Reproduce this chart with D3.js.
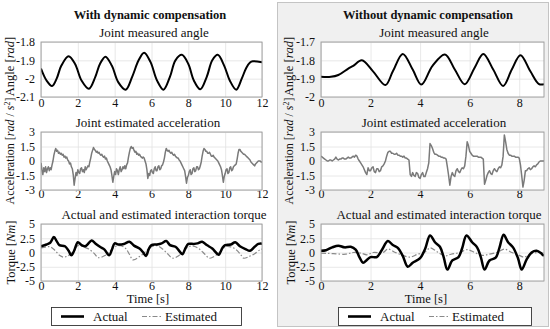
<!DOCTYPE html>
<html>
<head>
<meta charset="utf-8">
<script src="https://cdn.jsdelivr.net/npm/d3@7"></script>
<style>
body { margin: 0; background: #fff; }
text { font-family: "Liberation Serif", serif; fill: #111; }
</style>
</head>
<body>
<svg id="chart" width="550" height="329"></svg>
<script>
// ---- data ----
var xTicksWith = [0, 2, 4, 6, 8, 10, 12]
var xTicksWithout = [0, 2, 4, 6, 8]

var angleTicksWith = [-1.8, -1.9, -2, -2.1]
var angleTicksWithout = [-1.7, -1.8, -1.9, -2]
var accelTicks = [3, 1.5, 0, -1.5, -3]
var torqueTicks = [5, 2.5, 0, -2.5, -5]

// joint measured angle [t, rad]
var angleWith = [[0,-1.945],[0.3,-2.01],[0.6,-2.04],[0.85,-2.0],[1.1,-1.93],[1.5,-1.878],[1.85,-1.92],[2.2,-2.01],[2.6,-2.055],
  [2.95,-1.99],[3.2,-1.92],[3.5,-1.88],[3.85,-1.93],[4.2,-2.02],[4.6,-2.06],[4.95,-1.99],[5.3,-1.9],[5.6,-1.858],[5.95,-1.91],
  [6.3,-2.01],[6.65,-2.06],[7.0,-1.99],[7.3,-1.9],[7.65,-1.87],[8.0,-1.92],[8.3,-2.01],[8.65,-2.058],[9.0,-1.99],[9.3,-1.9],
  [9.6,-1.87],[9.95,-1.93],[10.25,-2.01],[10.6,-2.06],[10.9,-2.0],[11.15,-1.94],[11.35,-1.912],[11.5,-1.905],[12,-1.91]]
var angleWithout = [[0,-1.89],[0.4,-1.89],[0.7,-1.88],[1.1,-1.845],[1.3,-1.83],[1.65,-1.80],[2.1,-1.86],[2.6,-1.935],[2.9,-1.86],
  [3.3,-1.765],[3.7,-1.85],[4.05,-1.932],[4.5,-1.83],[5.0,-1.768],[5.4,-1.85],[5.8,-1.93],[6.2,-1.84],[6.55,-1.765],[6.95,-1.85],
  [7.35,-1.94],[7.7,-1.85],[8.05,-1.772],[8.45,-1.86],[8.8,-1.93],[9,-1.93]]

// joint estimated acceleration, sampled every 0.05 s from t = 0
var accelStep = 0.05
var accelWith = [
  -0.2,-0.9,-1.4,-0.7,-1.1,-0.6,-1.2,-0.8,-0.6,-1.0,-0.7,-0.9,-0.4,0.0,0.6,1.0,1.3,1.0,1.1,0.8,
  0.9,0.7,0.8,0.6,0.7,0.4,0.5,0.3,0.4,0.1,0.0,-0.3,-0.2,-0.6,-0.8,-1.4,-2.5,-1.8,-1.2,-1.5,
  -0.9,-1.2,-1.3,-0.8,-0.7,-1.1,-0.9,-1.2,-0.6,-0.9,-0.7,-0.5,-0.6,-0.1,0.3,0.8,1.1,1.4,1.2,1.1,
  0.9,1.0,0.8,0.9,0.7,0.6,0.7,0.5,0.4,0.5,0.2,0.3,0.0,-0.2,-0.4,-0.6,-0.9,-1.5,-2.2,-1.6,
  -1.1,-1.4,-0.8,-1.0,-1.4,-0.9,-0.6,-1.1,-0.9,-0.6,-0.8,-0.5,-0.8,-0.4,-0.2,0.4,0.9,1.3,1.5,1.3,
  1.4,1.1,0.9,1.0,0.7,0.8,0.6,0.7,0.5,0.4,0.3,0.4,0.3,0.0,-0.3,-0.9,-1.8,-1.3,-1.5,-1.0,
  -0.9,-1.2,-1.3,-0.8,-0.6,-1.0,-1.0,-0.6,-0.5,-0.9,-0.8,-0.5,-0.4,-0.1,0.3,0.9,1.3,1.1,1.0,1.1,
  0.9,0.8,0.9,0.7,0.6,0.7,0.5,0.4,0.3,0.3,0.1,0.0,-0.2,-0.4,-0.6,-0.8,-1.0,-1.6,-2.3,-1.7,
  -1.5,-1.1,-0.9,-1.4,-1.3,-0.8,-0.7,-1.1,-1.0,-0.6,-0.6,-0.9,-0.8,-0.5,-0.1,0.5,1.0,1.3,1.2,1.0,
  1.0,0.8,0.8,0.9,0.7,0.5,0.5,0.6,0.4,0.3,0.2,0.1,0.0,-0.2,-0.4,-0.6,-0.9,-1.5,-2.2,-1.6,
  -1.3,-0.9,-0.8,-1.3,-1.2,-0.7,-0.6,-1.0,-0.9,-0.6,-0.5,-0.4,-0.3,0.2,0.8,1.2,1.2,1.0,0.9,0.8,
  0.7,0.7,0.6,0.5,0.4,0.3,0.2,0.1,-0.1,-0.2,-0.3,-0.4,-0.5,-0.3,-0.2,-0.1,0.0,0.0,0.0,-0.1,
  -0.1]
var accelWithout = [
  0.5,0.4,0.3,0.2,0.1,0.0,0.0,0.1,0.1,0.0,0.1,0.2,0.4,0.2,0.1,0.2,0.2,0.3,0.3,0.2,
  0.2,0.3,0.4,0.3,0.3,0.4,0.5,0.4,0.6,0.5,0.2,0.0,-0.2,-0.4,-0.6,-0.9,-1.2,-1.4,-0.7,-1.0,
  -1.0,-0.7,-0.6,-1.1,-1.2,-0.8,-0.8,-1.1,-1.0,-0.6,-0.5,-0.3,0.0,0.5,0.9,1.0,1.0,0.8,0.8,0.7,
  0.7,0.8,0.6,0.6,0.5,0.5,0.4,0.5,0.3,0.3,0.2,0.1,-1.4,-1.6,-1.2,-1.5,-1.6,-1.2,-1.3,-1.7,
  -1.8,-1.4,-1.2,-1.6,-1.6,-1.2,-0.8,-0.2,1.8,1.6,1.3,0.9,0.7,0.7,0.6,0.5,0.5,0.4,0.4,0.3,
  0.3,0.2,-0.6,-1.5,-2.5,-1.6,-1.2,-1.5,-1.6,-1.0,-0.8,-1.1,-1.2,-0.9,-0.7,-0.8,-0.5,0.5,2.0,1.6,
  1.0,0.8,0.6,0.5,0.5,0.5,0.5,0.4,0.4,0.4,0.3,0.2,-2.4,-2.0,-1.5,-1.2,-1.0,-1.3,-1.4,-1.0,
  -0.8,-1.0,-1.1,-0.8,-0.6,-0.7,-0.4,0.5,2.7,2.0,1.2,0.8,0.6,0.6,0.5,0.5,0.5,0.4,0.4,0.4,
  0.3,-0.4,-1.5,-2.7,-2.0,-1.0,-1.0,-0.8,-0.7,-0.9,-0.8,-0.6,-0.5,-0.6,-0.4,-0.3,-0.1,0.0,0.0,0.0,
  0.0]

// interaction torque [t, Nm]
var torqueActualWith = [[0,1.1],[0.3,1.4],[0.5,1.7],[0.7,2.7],[0.85,2.0],[1.0,1.3],[1.3,1.1],[1.5,0.3],[1.65,-0.5],[1.8,0.3],
  [2.0,1.8],[2.2,1.3],[2.4,1.1],[2.55,1.5],[2.75,2.1],[2.95,1.6],[3.2,1.0],[3.45,0.5],[3.7,-0.5],[3.85,0.5],[4.0,1.6],[4.2,1.4],
  [4.5,1.5],[4.8,1.9],[5.05,1.2],[5.35,0.7],[5.55,0.0],[5.7,-0.6],[5.85,0.6],[6.0,1.3],[6.3,1.4],[6.55,1.6],[6.8,2.0],[7.0,1.3],
  [7.3,1.0],[7.5,0.3],[7.68,-0.3],[7.85,0.8],[8.0,1.5],[8.3,1.5],[8.5,1.6],[8.75,1.9],[9.0,1.3],[9.3,0.7],[9.5,0.0],[9.65,-0.4],
  [9.85,0.8],[10.0,1.3],[10.3,1.4],[10.55,1.8],[10.8,1.1],[11.1,0.6],[11.35,0.3],[11.6,1.0],[11.8,1.5],[12,1.55]]
var torqueEstWith = [[0,0.8],[0.3,1.0],[0.5,1.0],[0.75,0.4],[1.0,-0.5],[1.2,-0.8],[1.45,-0.6],[1.7,0.0],[1.9,0.9],[2.05,1.3],
  [2.3,1.0],[2.6,0.6],[2.9,-0.2],[3.1,-0.9],[3.5,-0.5],[3.8,0.4],[4.0,1.0],[4.3,1.2],[4.6,0.7],[4.8,-0.3],[5.0,-1.3],[5.4,-0.6],
  [5.8,0.5],[6.0,1.0],[6.3,1.2],[6.6,0.6],[6.9,-0.3],[7.15,-1.0],[7.45,-0.6],[7.8,0.4],[8.0,1.0],[8.3,1.1],[8.6,0.6],[8.9,-0.3],
  [9.15,-1.0],[9.45,-0.6],[9.8,0.4],[10.0,1.0],[10.3,1.0],[10.6,0.5],[10.85,-0.4],[11.0,-1.0],[11.3,-0.7],[11.6,-0.2],[11.9,0.5],[12,0.6]]
var torqueActualWithout = [[0,0.3],[0.2,0.4],[0.45,0.9],[0.7,1.2],[0.95,0.9],[1.2,1.0],[1.4,0.5],[1.55,-0.8],[1.7,-1.8],[1.85,-1.3],
  [2.0,-0.8],[2.25,-0.8],[2.45,0.4],[2.7,2.0],[2.9,1.3],[3.1,0.8],[3.3,-0.6],[3.5,-2.5],[3.7,-1.8],[4.0,-1.0],[4.2,0.6],[4.4,3.0],
  [4.6,1.8],[4.8,1.0],[4.95,-0.8],[5.1,-3.0],[5.3,-1.4],[5.55,-0.8],[5.7,0.8],[5.87,3.0],[6.1,1.8],[6.3,0.9],[6.45,-0.8],[6.6,-3.0],
  [6.8,-1.4],[7.05,-0.9],[7.2,0.8],[7.37,3.1],[7.55,1.8],[7.75,0.9],[7.95,-1.0],[8.1,-3.0],[8.3,-1.2],[8.5,0.0],[8.7,0.3],[8.9,-0.2],[9,-0.6]]
var torqueEstWithout = [[0,-0.1],[0.5,-0.2],[1.0,-0.3],[1.3,0.0],[1.6,-0.1],[1.85,-0.4],[2.1,0.0],[2.5,0.0],[2.7,0.6],[3.0,0.0],
  [3.3,-0.5],[3.6,-0.8],[3.9,-0.3],[4.2,0.1],[4.4,0.8],[4.7,0.1],[5.0,-0.6],[5.25,-0.3],[5.6,0.0],[5.9,0.5],[6.2,0.0],[6.5,-0.5],
  [6.8,-0.3],[7.15,0.1],[7.4,0.6],[7.7,0.0],[8.0,-0.5],[8.2,-0.8],[8.5,-0.2],[8.8,0.0],[9,-0.1]]

var legendLabels = ['Actual', 'Estimated']

// ---- layout ----
var svg = d3.select('#chart')
var rows = [{top: 42, bottom: 97, pad: 1}, {top: 132, bottom: 190, pad: -0.5}, {top: 224, bottom: 281, pad: 0.5}]
var clipId = 0

// right panel background
svg.append('rect')
    .attr('x', 277.5).attr('y', 2.5)
    .attr('width', 271).attr('height', 324)
    .attr('fill', '#f0f0f0')
    .attr('stroke', '#c4c4c4')

function sampled(values) {
    return values.map(function(v, i) { return [i * accelStep, v] })
}

function drawPlot(cfg) {
    var row = rows[cfg.row]
    var x = d3.scaleLinear().domain(cfg.xDomain).range([cfg.x0, cfg.x1])
    var y = d3.scaleLinear().domain(cfg.yDomain).range([row.bottom, row.top])
    var g = svg.append('g')

    g.append('rect')
        .attr('x', cfg.x0).attr('y', row.top)
        .attr('width', cfg.x1 - cfg.x0).attr('height', row.bottom - row.top)
        .attr('fill', '#fff')

    var xAxis = g.append('g')
        .attr('transform', 'translate(0,' + row.bottom + ')')
        .call(d3.axisBottom(x).tickValues(cfg.xTicks).tickSize(-(row.bottom - row.top))
            .tickPadding(row.pad).tickFormat(function(d) { return String(d) }))
    var yAxis = g.append('g')
        .attr('transform', 'translate(' + cfg.x0 + ',0)')
        .call(d3.axisLeft(y).tickValues(cfg.yTicks).tickSize(-(cfg.x1 - cfg.x0))
            .tickPadding(6).tickFormat(function(d) { return String(d) }))

    ;[xAxis, yAxis].forEach(function(a) {
        a.select('.domain').remove()
        a.selectAll('line').attr('stroke', '#e2e2e2').attr('stroke-width', 0.8)
        a.selectAll('text').attr('font-size', 12).attr('fill', '#111')
            .style('font-family', '"Liberation Serif", serif')
    })

    clipId++
    g.append('clipPath').attr('id', 'clip' + clipId)
        .append('rect')
        .attr('x', cfg.x0).attr('y', row.top - 1)
        .attr('width', cfg.x1 - cfg.x0).attr('height', row.bottom - row.top + 2)

    var line = d3.line()
        .x(function(d) { return x(d[0]) })
        .y(function(d) { return y(d[1]) })

    cfg.series.forEach(function(s) {
        g.append('path')
            .datum(s.data)
            .attr('clip-path', 'url(#clip' + clipId + ')')
            .attr('d', line.curve(s.smooth ? d3.curveCatmullRom : d3.curveLinear))
            .attr('fill', 'none')
            .attr('stroke', s.color)
            .attr('stroke-width', s.width)
            .attr('stroke-dasharray', s.dash || null)
            .attr('stroke-linejoin', 'round')
    })

    g.append('rect')
        .attr('x', cfg.x0).attr('y', row.top)
        .attr('width', cfg.x1 - cfg.x0).attr('height', row.bottom - row.top)
        .attr('fill', 'none')
        .attr('stroke', '#9a9a9a')
        .attr('stroke-width', 0.9)

    g.append('text')
        .attr('x', cfg.titleX).attr('y', row.top - 5.5)
        .attr('text-anchor', 'middle')
        .attr('font-size', 13)
        .text(cfg.title)

    var yl = g.append('text')
        .attr('transform', 'translate(' + cfg.labelX + ',' + cfg.labelY + ') rotate(-90)')
        .attr('text-anchor', 'middle')
        .attr('font-size', cfg.labelSize)
    cfg.label.forEach(function(part) {
        var t = yl.append('tspan').text(part.t)
        if (part.i) t.attr('font-style', 'italic')
        if (part.sup) t.attr('font-size', 8).attr('dy', -4)
        if (part.after) t.attr('dy', 4)
    })
}

var angleLabel = [{t: 'Angle ['}, {t: 'rad', i: true}, {t: ']'}]
var accelLabel = [{t: 'Acceleration ['}, {t: 'rad', i: true}, {t: ' / '}, {t: 's', i: true}, {t: '2', sup: true}, {t: ']', after: true}]
var torqueLabel = [{t: 'Torque ['}, {t: 'Nm', i: true}, {t: ']'}]

var panels = [
    {heading: 'With dynamic compensation', headX: 150, x0: 41, x1: 262, xDomain: [0, 12], xTicks: xTicksWith,
     angle: angleWith, angleTicks: angleTicksWith, angleDomain: [-2.1, -1.8], accel: accelWith,
     tA: torqueActualWith, tE: torqueEstWith, labelX: 13.5, titles: [154, 148, 164], timeX: 148,
     legend: {x: 51, w: 190}},
    {heading: 'Without dynamic compensation', headX: 428, x0: 321, x1: 544, xDomain: [0, 9], xTicks: xTicksWithout,
     angle: angleWithout, angleTicks: angleTicksWithout, angleDomain: [-2, -1.7], accel: accelWithout,
     tA: torqueActualWithout, tE: torqueEstWithout, labelX: 293, titles: [434, 434, 439], timeX: 426,
     legend: {x: 338, w: 193}}
]

panels.forEach(function(p) {
    svg.append('text')
        .attr('x', p.headX).attr('y', 18.5)
        .attr('text-anchor', 'middle')
        .attr('font-size', 12.5)
        .attr('font-weight', 'bold')
        .text(p.heading)

    drawPlot({row: 0, x0: p.x0, x1: p.x1, xDomain: p.xDomain, xTicks: p.xTicks,
        yDomain: p.angleDomain, yTicks: p.angleTicks, title: 'Joint measured angle', titleX: p.titles[0],
        label: angleLabel, labelX: p.labelX, labelY: 66.5, labelSize: 12.5,
        series: [{data: p.angle, color: '#000', width: 2, smooth: true}]})

    drawPlot({row: 1, x0: p.x0, x1: p.x1, xDomain: p.xDomain, xTicks: p.xTicks,
        yDomain: [-3, 3], yTicks: accelTicks, title: 'Joint estimated acceleration', titleX: p.titles[1],
        label: accelLabel, labelX: p.labelX, labelY: 151, labelSize: 12,
        series: [{data: sampled(p.accel), color: '#7a7a7a', width: 1.5}]})

    drawPlot({row: 2, x0: p.x0, x1: p.x1, xDomain: p.xDomain, xTicks: p.xTicks,
        yDomain: [-5, 5], yTicks: torqueTicks, title: 'Actual and estimated interaction torque', titleX: p.titles[2],
        label: torqueLabel, labelX: p.labelX + 1.5, labelY: 252.5, labelSize: 12.5,
        series: [{data: p.tE, color: '#8a8a8a', width: 1.2, dash: '5,2,1.5,2', smooth: true},
                 {data: p.tA, color: '#000', width: 2.5, smooth: true}]})

    svg.append('text')
        .attr('x', p.timeX).attr('y', 302.5)
        .attr('text-anchor', 'middle')
        .attr('font-size', 12.5)
        .text('Time [s]')

    // legend
    var lg = svg.append('g').attr('transform', 'translate(' + p.legend.x + ',307)')
    lg.append('rect')
        .attr('x', 0.5).attr('y', 0.5)
        .attr('width', p.legend.w).attr('height', 18)
        .attr('fill', '#fff')
        .attr('stroke', '#333')
        .attr('stroke-width', 0.9)
    lg.append('line')
        .attr('x1', 10).attr('x2', 33).attr('y1', 9.5).attr('y2', 9.5)
        .attr('stroke', '#000').attr('stroke-width', 2.6)
    lg.append('text').attr('x', 42).attr('y', 13.5).attr('font-size', 13).text(legendLabels[0])
    lg.append('line')
        .attr('x1', 91).attr('x2', 110).attr('y1', 9.5).attr('y2', 9.5)
        .attr('stroke', '#8a8a8a').attr('stroke-width', 1.2)
        .attr('stroke-dasharray', '5,2,1.5,2')
    lg.append('text').attr('x', 114).attr('y', 13.5).attr('font-size', 13).text(legendLabels[1])
})
</script>
</body>
</html>
